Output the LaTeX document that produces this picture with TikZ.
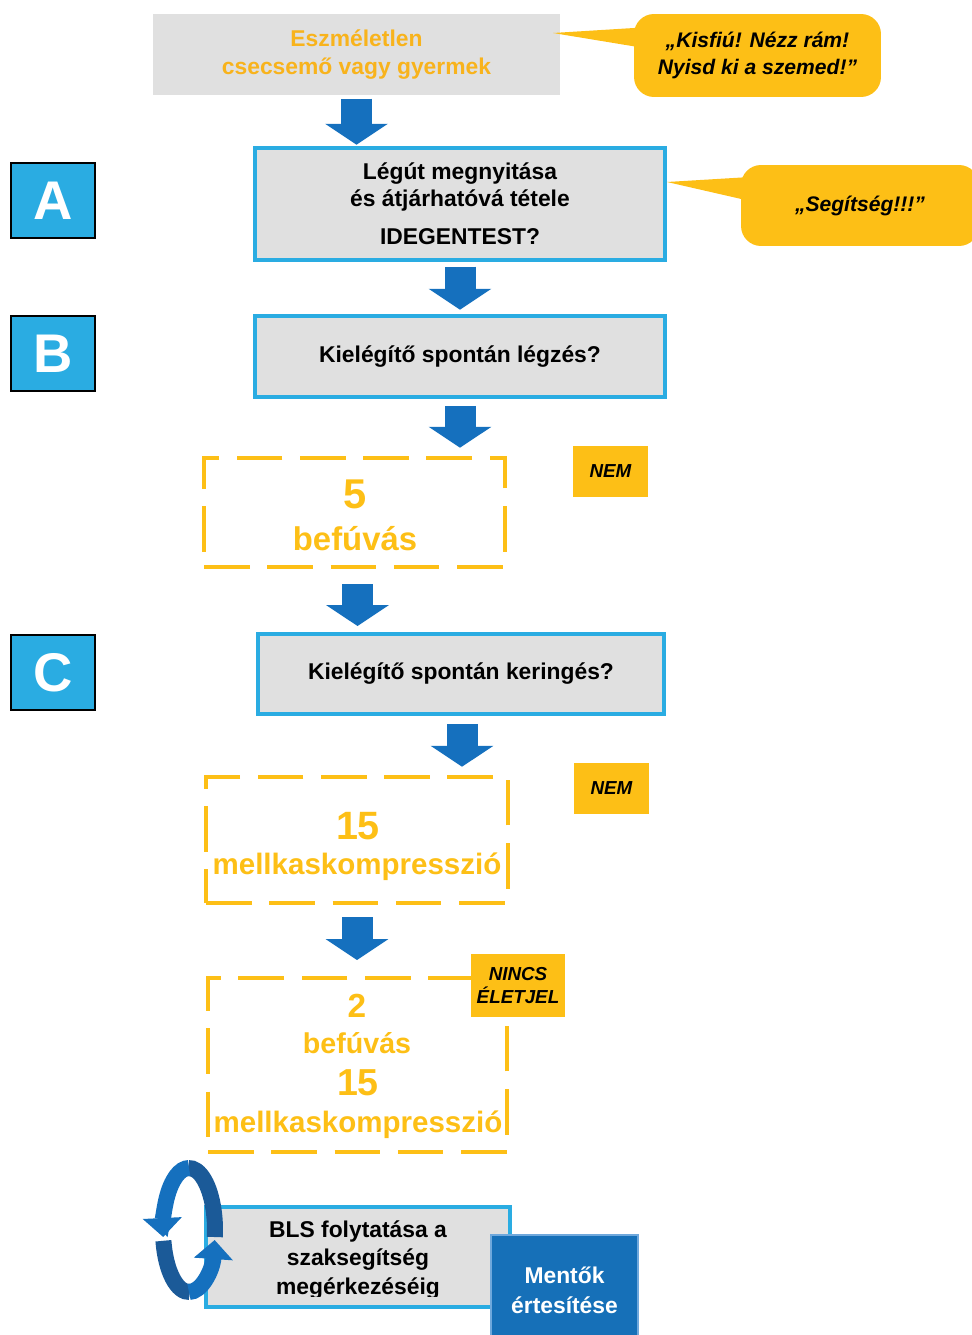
\documentclass[tikz,border=0pt]{standalone}
\usepackage{fontspec}
\setmainfont{Liberation Sans}
\usetikzlibrary{arrows.meta}

\definecolor{boxgray}{HTML}{E0E0E0}
\definecolor{framecyan}{HTML}{2AACE2}
\definecolor{arrowblue}{HTML}{1570BE}
\definecolor{ringdark}{HTML}{1B5A98}
\definecolor{callyellow}{HTML}{FDBF16}
\definecolor{textorange}{HTML}{F8B31C}
\definecolor{mentoblue}{HTML}{1670B8}
\definecolor{mentoedge}{HTML}{6FA8DC}

\tikzset{
  stepbox/.style={draw=framecyan, line width=2pt, fill=boxgray, align=center, inner sep=0pt,
    font=\fontsize{13}{15.5}\selectfont\bfseries},
  dashbox/.style={draw=callyellow, line width=2.3pt, dash pattern=on 26pt off 10pt, inner sep=0pt},
  letterbox/.style={draw=black, line width=0.8pt, fill=framecyan, text=white, inner sep=0pt,
    font=\fontsize{31}{31}\selectfont\bfseries, minimum width=1.68cm, minimum height=1.5cm},
  tagbox/.style={fill=callyellow, align=center, inner sep=0pt,
    font=\fontsize{10.7}{13.6}\selectfont\bfseries\itshape},
  bubble/.style={fill=callyellow, rounded corners=0.4cm, align=center, inner sep=0pt,
    font=\fontsize{12}{15.3}\selectfont\bfseries\itshape},
  bigtext/.style={text=callyellow, anchor=base, inner sep=0pt, font=\fontsize{#1}{#1}\selectfont\bfseries},
  flowarrow/.style={draw=arrowblue, line width=0.62cm, -{Triangle[width=1.24cm,length=0.42cm]}},
  loopring/.style={draw=arrowblue, line width=0.32cm},
  looptip/.style={-{Triangle[width=0.76cm,length=0.38cm]}},
}

\begin{document}
\begin{tikzpicture}[x=0.02cm, y=-0.02cm]
\useasboundingbox (0,0) rectangle (972,1335);

% top row
\node[stepbox, draw=none, text=textorange, minimum width=8.14cm, minimum height=1.62cm] (unconscious) at (356.5,54.5) {Eszméletlen\\csecsemő vagy gyermek};
\fill[callyellow] (553,33) -- (650,27) -- (650,49) -- cycle;
\node[bubble, minimum width=4.94cm, minimum height=1.66cm] (callout1) at (757.5,55.5) {„Kisfiú! Nézz rám!\\Nyisd ki a szemed!”};

% A
\node[letterbox] (letA) at (53,200.5) {A};
\node[stepbox, minimum width=8.2cm, minimum height=2.24cm] (airway) at (460,204) {Légút megnyitása\\és átjárhatóvá tétele\\[6pt]IDEGENTEST?};
\fill[callyellow] (667,182) -- (750,177) -- (750,201) -- cycle;
\node[bubble, minimum width=4.76cm, minimum height=1.62cm] (callout2) at (860,205.5) {„Segítség!!!”};

% B
\node[letterbox] (letB) at (53,353.5) {B};
\node[stepbox, minimum width=8.2cm, minimum height=1.62cm] (breathing) at (460,356.5) {Kielégítő spontán légzés?};
\node[dashbox, minimum width=6.02cm, minimum height=2.18cm] (rescue) at (354.5,512.5) {};
\node[bigtext=23.7] (rescuenum) at (355,508) {5};
\node[bigtext=18.7] (rescueword) at (355,550) {befúvás};
\node[tagbox, minimum width=1.5cm, minimum height=1.02cm] (nem1) at (610.5,471.5) {NEM};

% C
\node[letterbox] (letC) at (53,672.5) {C};
\node[stepbox, minimum width=8.12cm, minimum height=1.6cm] (circulation) at (461,674) {Kielégítő spontán keringés?};
\node[dashbox, minimum width=6.04cm, minimum height=2.52cm] (compress) at (357,840) {};
\node[bigtext=22.5] (compressnum) at (358,839) {15};
\node[bigtext=16.8] (compressword) at (357,874) {mellkaskompresszió};
\node[tagbox, minimum width=1.5cm, minimum height=1.02cm] (nem2) at (611.5,788.5) {NEM};

% cycle
\node[dashbox, minimum width=5.98cm, minimum height=3.48cm] (cpr) at (357.5,1065) {};
\node[bigtext=19] (cprnumA) at (357,1017) {2};
\node[bigtext=16.3] (cprwordA) at (357,1053) {befúvás};
\node[bigtext=21.4] (cprnumB) at (358,1095) {15};
\node[bigtext=16.8] (cprwordB) at (358,1132) {mellkaskompresszió};
\node[tagbox, minimum width=1.88cm, minimum height=1.26cm] (nolife) at (518,985.5) {NINCS\\ÉLETJEL};

% flow arrows
\draw[flowarrow] (unconscious.south) ++(0,2) -- ++(0,46);
\draw[flowarrow] (airway.south) ++(0,5) -- ++(0,43);
\draw[flowarrow] (breathing.south) ++(0,7) -- ++(0,42);
\draw[flowarrow] (rescue.south) ++(3,15) -- ++(0,42);
\draw[flowarrow] (circulation.south) ++(1,8) -- ++(0,43);
\draw[flowarrow] (compress.south) ++(0,12) -- ++(0,43);

% BLS and ambulance
\node[stepbox, minimum width=6.08cm, minimum height=2cm] (bls) at (358,1257) {};
\begin{scope}
  \clip (206,1207) rectangle (510,1296);
  \node[align=center, inner sep=0pt, font=\fontsize{13}{16.2}\selectfont\bfseries] (blstext) at (358,1260) {BLS folytatása a\\szaksegítség\\megérkezéséig};
\end{scope}
\node[fill=mentoblue, draw=mentoedge, line width=0.8pt, text=white, align=center, inner sep=0pt,
  font=\fontsize{13}{17}\selectfont\bfseries, minimum width=2.94cm, minimum height=2.2cm] (ambulance) at (564.5,1290) {Mentők\\értesítése};

% loop arrow
\coordinate (loopc) at (189,1230);
\draw[loopring, draw=ringdark] (loopc) ++(6.5:26 and 62) arc[start angle=6.5, end angle=-92, x radius=26, y radius=62];
\draw[loopring, looptip] (loopc) ++(-90:26 and 62) arc[start angle=-90, end angle=-186.5, x radius=26, y radius=62];
\draw[loopring, draw=ringdark] (loopc) ++(170:26 and 62) arc[start angle=170, end angle=88, x radius=26, y radius=62];
\draw[loopring, looptip] (loopc) ++(90:26 and 62) arc[start angle=90, end angle=9.3, x radius=26, y radius=62];
\end{tikzpicture}
\end{document}
